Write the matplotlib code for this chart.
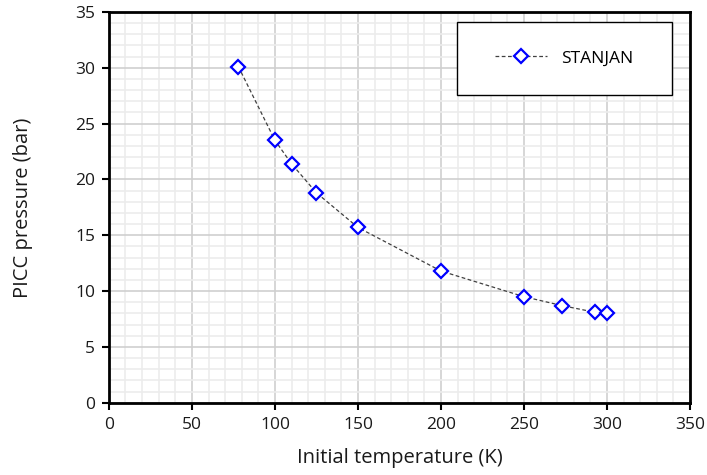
import matplotlib.pyplot as plt
from matplotlib.ticker import MultipleLocator
from matplotlib.patches import Rectangle

plt.rcParams['font.family'] = ['Open Sans', 'DejaVu Sans']

# initial temperature (K) vs PICC pressure (bar)
temp_K = [78, 100, 110, 125, 150, 200, 250, 273, 293, 300]
picc_bar = [30.1, 23.5, 21.4, 18.8, 15.7, 11.8, 9.5, 8.7, 8.1, 8.0]

fig = plt.figure(figsize=(7.07, 4.75), dpi=100)
ax = fig.add_axes([0.154, 0.152, 0.822, 0.823])

ax.plot(temp_K, picc_bar, linestyle=(0, (3, 2)), color='#404040', linewidth=0.9,
        marker='D', markersize=7, markerfacecolor='white', markeredgecolor='#0000ff',
        markeredgewidth=1.6, label='STANJAN', zorder=3)

ax.set_xlim(0, 350)
ax.set_ylim(0, 35)
ax.xaxis.set_major_locator(MultipleLocator(50))
ax.yaxis.set_major_locator(MultipleLocator(5))
ax.xaxis.set_minor_locator(MultipleLocator(10))
ax.yaxis.set_minor_locator(MultipleLocator(1))

ax.grid(which='minor', color='#ececec', linewidth=1.2)
ax.grid(which='major', color='#cfcfcf', linewidth=1.2)
ax.set_axisbelow(True)

for s in ax.spines.values():
    s.set_linewidth(2)
ax.tick_params(which='major', direction='out', length=5, width=1.5, labelsize=12.5,
               labelcolor='#1a1a1a', pad=5)
ax.tick_params(which='minor', length=0)

ax.set_xlabel('Initial temperature (K)', fontsize=14.5, color='#1a1a1a', labelpad=11)
ax.set_ylabel('PICC pressure (bar)', fontsize=14.5, color='#1a1a1a', labelpad=30)

# legend box: white rectangle with the entry centred inside
box = Rectangle((0.599, 0.788), 0.37, 0.186, transform=ax.transAxes,
                facecolor='white', edgecolor='black', linewidth=1, zorder=4)
ax.add_patch(box)
leg = ax.legend(loc='center', bbox_to_anchor=(0.599 + 0.185, 0.788 + 0.093),
                fontsize=12.5, frameon=False, handlelength=3.0)
leg.set_zorder(5)

fig.savefig('out.png', dpi=100)
